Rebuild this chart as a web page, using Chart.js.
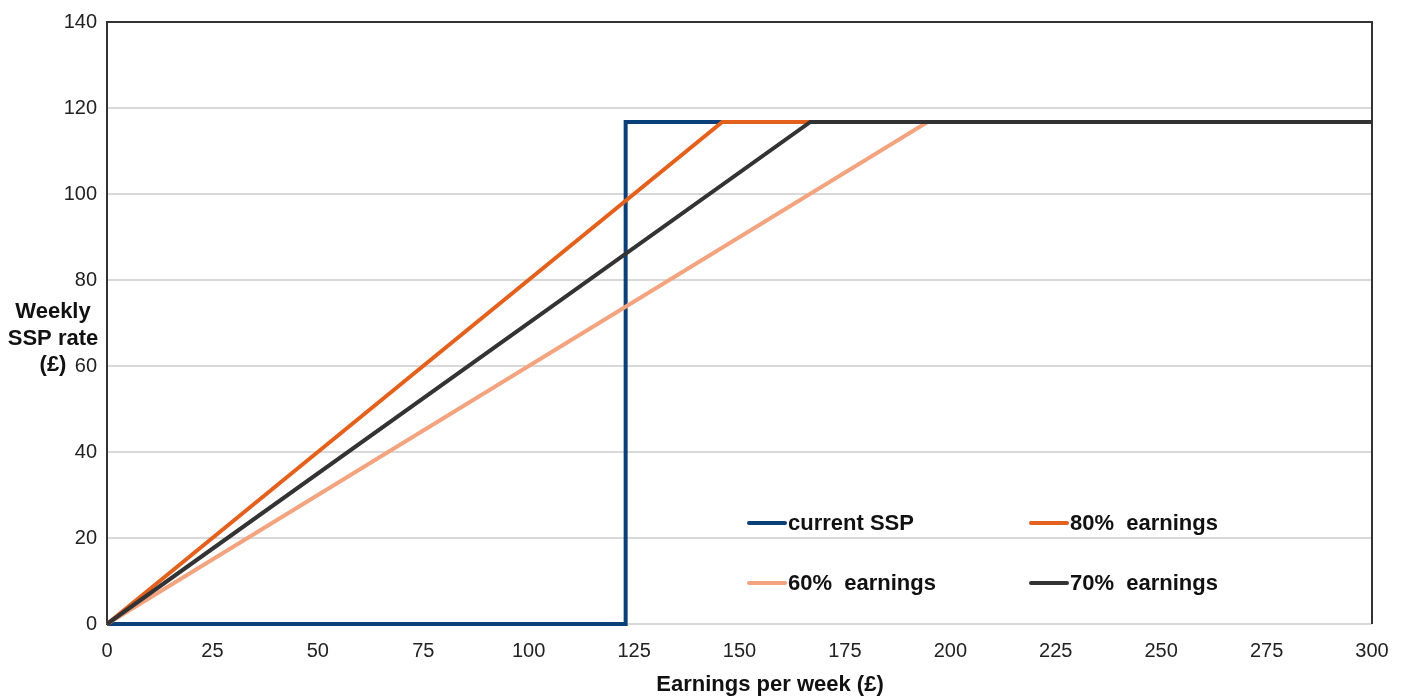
<!DOCTYPE html>
<html>
<head>
<meta charset="utf-8">
<script src="https://cdn.jsdelivr.net/npm/chart.js@4.4.0/dist/chart.umd.min.js"></script>
<style>
html,body{margin:0;padding:0;background:#fff;}
#wrap{width:1405px;height:697px;position:relative;}
</style>
</head>
<body>
<div id="wrap"><canvas id="c" width="1405" height="697"></canvas></div>
<script>
// Data
const xTicks = [0,25,50,75,100,125,150,175,200,225,250,275,300];
const yTicks = [0,20,40,60,80,100,120,140];
const seriesLabels = ['current SSP','80% earnings','60% earnings','70% earnings'];
const currentSSP = [{x:0,y:0},{x:123,y:0},{x:123,y:116.75},{x:300,y:116.75}];
const earn80 = [{x:0,y:0},{x:145.9,y:116.75},{x:300,y:116.75}];
const earn60 = [{x:0,y:0},{x:194.6,y:116.75},{x:300,y:116.75}];
const earn70 = [{x:0,y:0},{x:166.8,y:116.75},{x:300,y:116.75}];
const colors = ['#0b3f7a','#e4601d','#f3a47f','#333333'];

const FONT = '"Liberation Sans", Arial, sans-serif';

const extras = {
  id:'extras',
  afterDraw(chart){
    const ctx = chart.ctx, a = chart.chartArea;
    ctx.save();
    // frame (top, right)
    ctx.strokeStyle = '#333333'; ctx.lineWidth = 2;
    ctx.beginPath();
    ctx.moveTo(a.left, a.top); ctx.lineTo(a.right, a.top); ctx.lineTo(a.right, a.bottom);
    ctx.stroke();
    // y title
    ctx.fillStyle = '#111'; ctx.font = 'bold 22px ' + FONT;
    ctx.textAlign = 'center'; ctx.textBaseline = 'middle';
    ['Weekly','SSP rate','(£)'].forEach((t,i)=>ctx.fillText(t, 53, 312 + i*26.5));
    // x title
    ctx.fillText('Earnings per week (£)', 770, 685);
    // legend
    const pos = [[748,523],[1030,523],[748,583],[1030,583]];
    chart.data.datasets.forEach((ds,i)=>{
      const [x,y] = pos[i];
      ctx.strokeStyle = ds.borderColor; ctx.lineWidth = 4; ctx.lineCap='round';
      ctx.beginPath(); ctx.moveTo(x+1,y); ctx.lineTo(x+37,y); ctx.stroke();
      ctx.fillStyle = '#111'; ctx.textAlign='left';
      ctx.font = 'bold 22px ' + FONT;
      ctx.fillText(ds.label.replace('% ', '%  '), x+40, y+1);
    });
    ctx.restore();
  }
};

const ds = (label, data, color, order) => ({
  label, data, borderColor: color, backgroundColor: color,
  borderWidth: 4, pointRadius: 0, tension: 0, fill: false, order,
  borderJoinStyle: 'miter', clip: 4
});

new Chart(document.getElementById('c'), {
  type: 'line',
  data: {
    datasets: [
      ds(seriesLabels[0], currentSSP, colors[0], 3),
      ds(seriesLabels[1], earn80, colors[1], 1),
      ds(seriesLabels[2], earn60, colors[2], 2),
      ds(seriesLabels[3], earn70, colors[3], 0)
    ]
  },
  options: {
    responsive: false,
    animation: false,
    devicePixelRatio: 1,
    layout: { padding: { left: 0, right: 33, top: 20, bottom: 0 } },
    plugins: { legend: { display: false }, tooltip: { enabled: false }, title: { display: false } },
    scales: {
      x: {
        type: 'linear', min: 0, max: 300,
        afterBuildTicks: s => { s.ticks = xTicks.map(v => ({value: v})); },
        afterFit: s => { s.height = 73; },
        grid: { display: false },
        border: { display: false },
        ticks: { color: '#222', font: { family: FONT, size: 20 }, padding: 7, maxRotation: 0 }
      },
      y: {
        type: 'linear', min: 0, max: 140,
        afterBuildTicks: s => { s.ticks = yTicks.map(v => ({value: v})); },
        afterFit: s => { s.width = 107; },
        grid: { color: '#d9d9d9', lineWidth: 2, drawTicks: false },
        border: { display: true, color: '#333333', width: 2 },
        ticks: { color: '#222', font: { family: FONT, size: 20 }, padding: 10 }
      }
    }
  },
  plugins: [extras]
});
</script>
</body>
</html>
